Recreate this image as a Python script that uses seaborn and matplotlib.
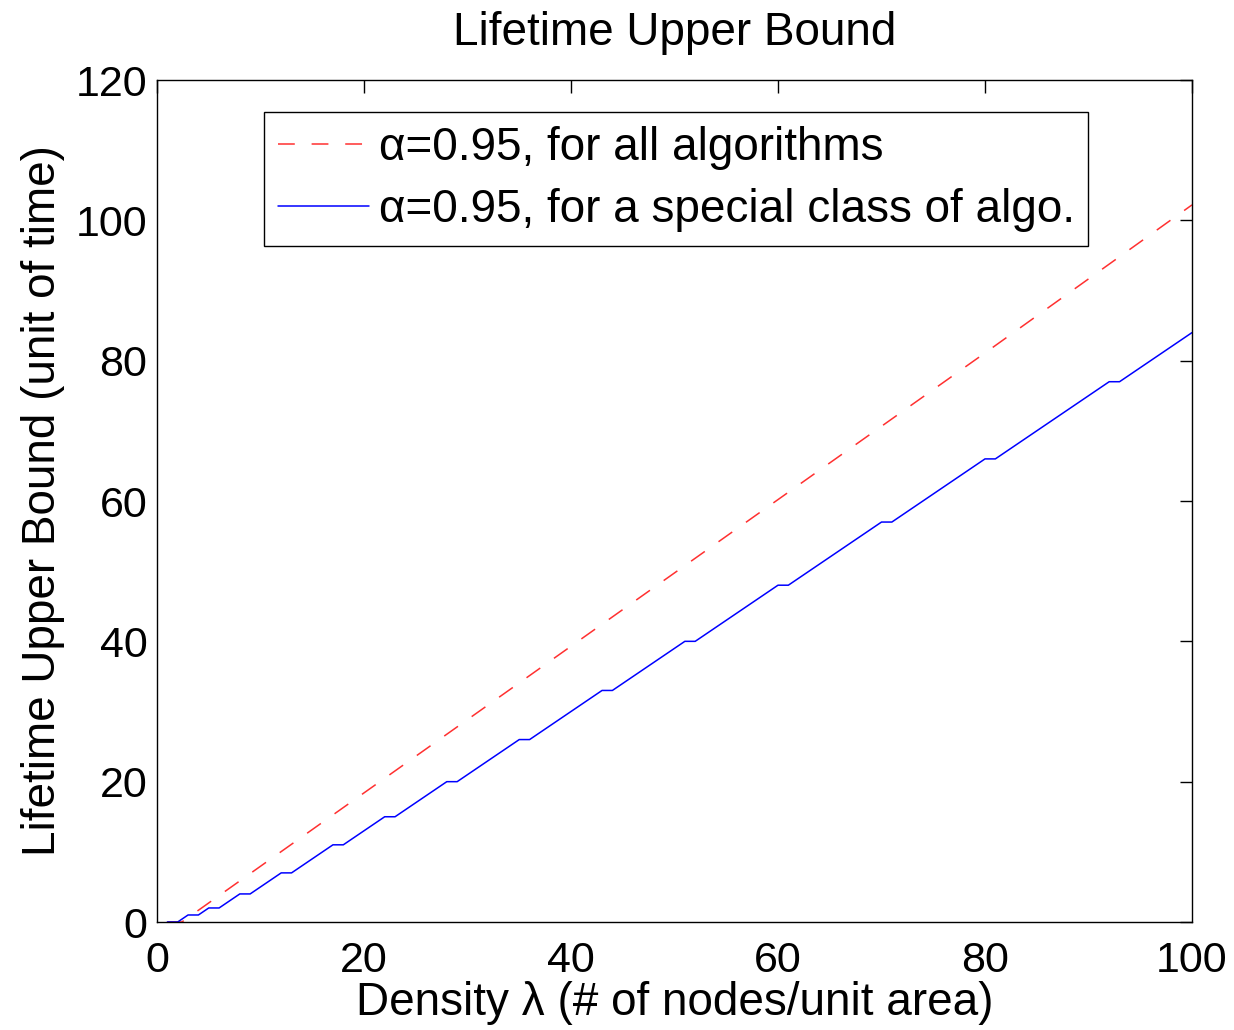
import matplotlib
matplotlib.use("Agg")
import matplotlib.pyplot as plt
import seaborn as sns
import pandas as pd

# Data
blue_x = list(range(1, 101))
blue_y = [0, 0, 1, 1, 2, 2, 3, 4, 4, 5,
          6, 7, 7, 8, 9, 10, 11, 11, 12, 13,
          14, 15, 15, 16, 17, 18, 19, 20, 20, 21,
          22, 23, 24, 25, 26, 26, 27, 28, 29, 30,
          31, 32, 33, 33, 34, 35, 36, 37, 38, 39,
          40, 40, 41, 42, 43, 44, 45, 46, 47, 48,
          48, 49, 50, 51, 52, 53, 54, 55, 56, 57,
          57, 58, 59, 60, 61, 62, 63, 64, 65, 66,
          66, 67, 68, 69, 70, 71, 72, 73, 74, 75,
          76, 77, 77, 78, 79, 80, 81, 82, 83, 84]
red_x = [1, 2.4, 20, 40, 60, 80, 100]
red_y = [0, 0, 18.4, 39.3, 60.2, 81.1, 102.2]

red_label = "α=0.95, for all algorithms"
blue_label = "α=0.95, for a special class of algo."
title = "Lifetime Upper Bound"
xlabel = "Density λ (# of nodes/unit area)"
ylabel = "Lifetime Upper Bound (unit of time)"
xticks = [0, 20, 40, 60, 80, 100]
yticks = [0, 20, 40, 60, 80, 100, 120]

sns.set_theme(style="white")
plt.rcParams['font.family'] = ['Liberation Sans', 'DejaVu Sans']

fig = plt.figure(figsize=(12.34, 10.30), dpi=100)
ax = fig.add_axes([157/1234, 1-922/1030, (1192-157)/1234, (922-80)/1030])

df_red = pd.DataFrame({"x": red_x, "y": red_y})
df_blue = pd.DataFrame({"x": blue_x, "y": blue_y})
sns.lineplot(data=df_red, x="x", y="y", ax=ax, color="#ff3030", lw=1.1,
             dashes=False, label=red_label)
sns.lineplot(data=df_blue, x="x", y="y", ax=ax, color="#0000ff", lw=1.1,
             label=blue_label)
ax.lines[0].set_dashes((11, 11))

ax.set_xlim(0, 100)
ax.set_ylim(0, 120)
ax.set_xticks(xticks)
ax.set_yticks(yticks)
ax.tick_params(direction="in", length=9, width=1, colors="black",
               labelsize=31, top=True, right=True, pad=7)
ax.tick_params(axis="x", pad=14)
for s in ax.spines.values():
    s.set_color("black")
    s.set_linewidth(1)
ax.set_title(title, fontsize=33, pad=25, color="black")
ax.set_xlabel(xlabel, fontsize=33, labelpad=0, color="black")
ax.set_ylabel(ylabel, fontsize=33, labelpad=8, color="black")

leg = ax.legend(loc="upper left", bbox_to_anchor=(0.1034, 0.962), fontsize=33,
                frameon=True, fancybox=False, handlelength=2.0,
                borderpad=0.3, labelspacing=0.4, handletextpad=0.2,
                borderaxespad=0)
leg.get_frame().set_edgecolor("black")
leg.get_frame().set_linewidth(1)
leg.get_frame().set_alpha(1)
for t in leg.get_texts():
    t.set_color("black")

fig.savefig("out.png", dpi=100)
